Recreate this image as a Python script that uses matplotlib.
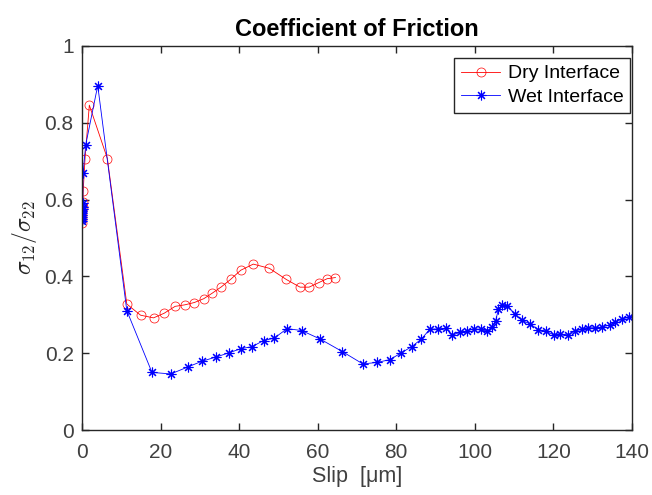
import numpy as np
import matplotlib.pyplot as plt

plt.rcParams['font.family'] = ['Liberation Sans', 'DejaVu Sans']
plt.rcParams['mathtext.fontset'] = 'cm'

# dry interface data (slip in um, sigma12/sigma22)
dry_x = [0.0, 0.05, 0.1, 0.1, 0.15, 0.2, 0.3, 0.76, 1.86, 6.45,
         11.4, 14.9, 18.2, 20.9, 23.7, 26.2, 28.6, 31.0, 33.1, 35.5,
         37.8, 40.4, 43.6, 47.7, 52.0, 55.5, 57.8, 60.3, 62.4, 64.5]
dry_y = [0.54, 0.55, 0.56, 0.57, 0.58, 0.594, 0.623, 0.706, 0.846, 0.707,
         0.328, 0.299, 0.292, 0.304, 0.322, 0.326, 0.332, 0.342, 0.356, 0.373,
         0.392, 0.416, 0.432, 0.421, 0.392, 0.372, 0.372, 0.384, 0.394, 0.397]

# wet interface data
wet_x = [0.0, 0.02, 0.05, 0.08, 0.1, 0.12, 0.15, 0.18, 0.2, 0.25, 0.93, 4.0,
         11.4, 17.8, 22.6, 26.9, 30.5, 34.1, 37.4, 40.5, 43.3, 46.2, 48.9,
         52.2, 55.9, 60.6, 66.3, 71.5, 75.1, 78.3, 81.3, 83.9, 86.3, 88.6,
         90.7, 92.6, 94.3, 96.1, 97.9, 99.7, 101.5, 103.1, 104.3, 105.3,
         106.0, 106.9, 108.3, 110.1, 111.9, 114.1, 116.2, 118.2, 120.2,
         121.8, 123.7, 125.4, 127.3, 128.7, 130.5, 132.4, 134.4, 135.8,
         137.5, 139.2, 141.0]
wet_y = [0.545, 0.55, 0.555, 0.56, 0.565, 0.57, 0.575, 0.58, 0.59, 0.668, 0.742, 0.897,
         0.311, 0.150, 0.146, 0.164, 0.179, 0.190, 0.201, 0.212, 0.217, 0.233, 0.239,
         0.264, 0.259, 0.237, 0.204, 0.172, 0.176, 0.183, 0.201, 0.217, 0.236, 0.263,
         0.263, 0.265, 0.247, 0.254, 0.258, 0.263, 0.262, 0.257, 0.267, 0.285,
         0.314, 0.326, 0.324, 0.302, 0.286, 0.276, 0.261, 0.257, 0.247,
         0.250, 0.247, 0.258, 0.262, 0.266, 0.266, 0.268, 0.274, 0.280,
         0.290, 0.293, 0.296]

fig = plt.figure(figsize=(6.52, 4.95), dpi=100)
ax = fig.add_axes([0.1258, 0.1313, 0.8435, 0.7758])

ax.plot(dry_x, dry_y, '-o', color='r', lw=0.6, markersize=6.5,
        markerfacecolor='none', markeredgewidth=0.5, label='Dry Interface')
ax.plot(wet_x, wet_y, '-', marker=(8, 2, 0), color='b', lw=0.6, markersize=7,
        markeredgewidth=0.8, label='Wet Interface')

ax.set_xlim(0, 140)
ax.set_ylim(0, 1)
ax.set_xticks(np.arange(0, 141, 20))
ax.set_yticks(np.arange(0, 1.01, 0.2))
ax.set_yticklabels(['0', '0.2', '0.4', '0.6', '0.8', '1'])

gray = '#262626'
for s in ax.spines.values():
    s.set_color(gray)
    s.set_linewidth(1.0)
ax.tick_params(direction='in', top=True, right=True, length=5,
               labelsize=15, colors=gray, labelcolor='#404040', width=1.0)
ax.tick_params(axis='x', pad=9)
ax.tick_params(axis='y', pad=6)

ax.set_title('Coefficient of Friction', fontsize=17, fontweight='bold', pad=7)
ax.set_xlabel('Slip  [\u03bcm]', fontsize=15.5, color='#404040', labelpad=3)
ax.set_ylabel(r'$\sigma_{12}/\sigma_{22}$', fontsize=17, color='#262626', labelpad=4)

leg = ax.legend(loc='upper right', bbox_to_anchor=(0.997, 0.969),
                fontsize=14, fancybox=False,
                edgecolor=gray, framealpha=1, borderaxespad=0,
                handlelength=2.0, borderpad=0.35, labelspacing=0.3,
                handletextpad=0.4)
leg.get_frame().set_linewidth(1.0)

plt.savefig('out.png', dpi=100)
